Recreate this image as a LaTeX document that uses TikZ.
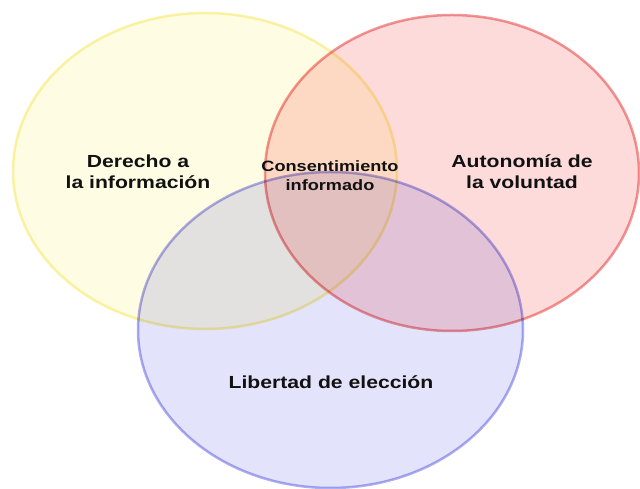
\documentclass[tikz,border=0pt]{standalone}
\usepackage{fontspec}
\setmainfont{Liberation Sans}[FakeStretch=1.21]
\usetikzlibrary{shapes.geometric}
\definecolor{yfill}{HTML}{FFFCE4}
\definecolor{ydraw}{HTML}{FAF3AA}
\definecolor{rfill}{HTML}{FDDBDB}
\definecolor{rdraw}{HTML}{F29898}
\definecolor{bfill}{HTML}{E3E3FB}
\definecolor{bdraw}{HTML}{AEAEF0}
\definecolor{txt}{HTML}{111111}
\tikzset{
  venn/.style={ellipse, inner sep=0pt, outer sep=0pt, line width=2.5pt},
  biglabel/.style={align=center, font=\bfseries\fontsize{17.5}{21}\selectfont, text=txt},
  midlabel/.style={align=center, font=\bfseries\fontsize{15}{19}\selectfont, text=txt}
}
\begin{document}
\begin{tikzpicture}[x=1pt,y=1pt]
\useasboundingbox (0,0) rectangle (640,489);
\fill[white] (0,0) rectangle (640,489);
\begin{scope}[blend group=multiply]
\node[venn, fill=yfill, draw=ydraw, minimum width=384pt, minimum height=316pt] (yel) at (205,318) {};
\node[venn, fill=rfill, draw=rdraw, minimum width=374pt, minimum height=316pt] (red) at (452,316) {};
\node[venn, fill=bfill, draw=bdraw, minimum width=385pt, minimum height=316pt] (blu) at (330.5,159) {};
\end{scope}
\node[biglabel] (t1) at (138,317) {Derecho a\\la información};
\node[biglabel] (t2) at (522,317) {Autonomía de\\la voluntad};
\node[midlabel] (t3) at (330,313) {Consentimiento\\informado};
\node[biglabel] (t4) at (331,107) {Libertad de elección};
\end{tikzpicture}
\end{document}
